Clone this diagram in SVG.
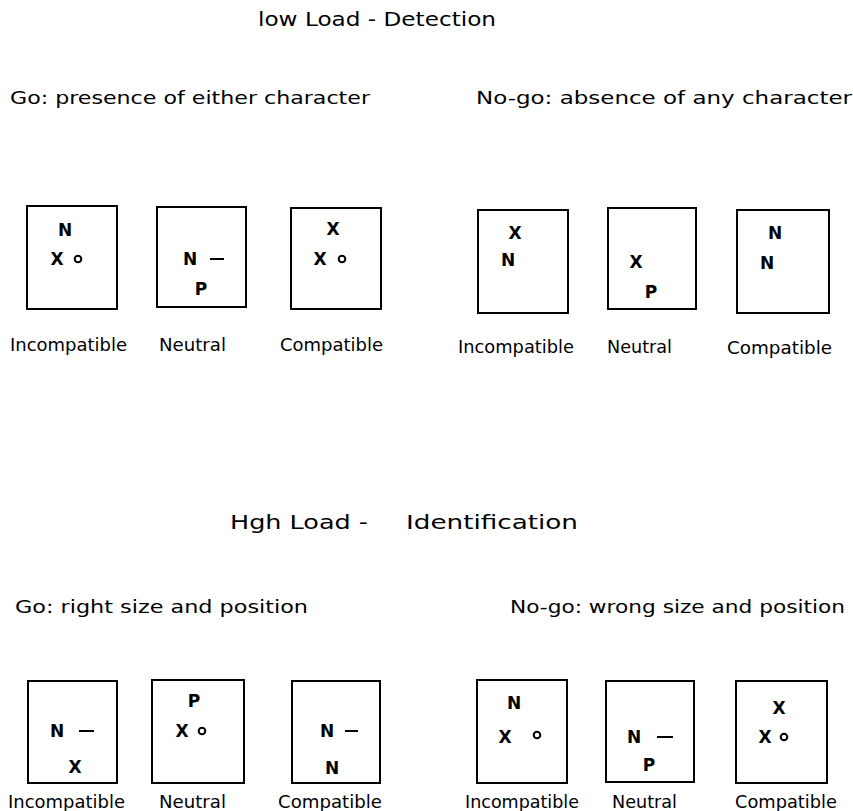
<svg xmlns="http://www.w3.org/2000/svg" width="853" height="811" viewBox="0 0 853 811">
<style>
text{font-family:"DejaVu Sans","Liberation Sans",sans-serif;fill:#000}
.title{font-size:20px}
.head{font-size:18px}
.lab{font-size:17px}
.ch{font-size:17px;font-weight:bold;text-anchor:middle}
.box{fill:none;stroke:#000;stroke-width:2}
.dot{fill:none;stroke:#000;stroke-width:2}
.dash{stroke:#000;stroke-width:2}
</style>
<rect width="853" height="811" fill="#fff"/>
<g id="titles">
<text class="title" x="258" y="26" textLength="238" lengthAdjust="spacingAndGlyphs">low Load - Detection</text>
<text class="head" x="10" y="104" textLength="360" lengthAdjust="spacingAndGlyphs">Go: presence of either character</text>
<text class="head" x="476" y="104" textLength="376" lengthAdjust="spacingAndGlyphs">No-go: absence of any character</text>
<text class="title" x="230" y="529" textLength="138" lengthAdjust="spacingAndGlyphs">Hgh Load -</text>
<text class="title" x="406" y="529" textLength="172" lengthAdjust="spacingAndGlyphs">Identification</text>
<text class="head" x="15" y="613" textLength="293" lengthAdjust="spacingAndGlyphs">Go:  right size and position</text>
<text class="head" x="510" y="613" textLength="335" lengthAdjust="spacingAndGlyphs">No-go: wrong size and position</text>
</g>
<g id="box1">
<rect class="box" x="27" y="206" width="90" height="103"/>
<text class="ch" x="65" y="236">N</text><text class="ch" x="57" y="265">X</text><circle class="dot" cx="78" cy="259" r="3.3"/>
<text class="lab" x="10" y="351" textLength="117" lengthAdjust="spacingAndGlyphs">Incompatible</text>
</g>
<g id="box2">
<rect class="box" x="157" y="207" width="89" height="100"/>
<text class="ch" x="190" y="265">N</text><line class="dash" x1="210" y1="259" x2="224" y2="259"/><text class="ch" x="201" y="295">P</text>
<text class="lab" x="159" y="351" textLength="67" lengthAdjust="spacingAndGlyphs">Neutral</text>
</g>
<g id="box3">
<rect class="box" x="291" y="208" width="90" height="101"/>
<text class="ch" x="333" y="235">X</text><text class="ch" x="320" y="265">X</text><circle class="dot" cx="342" cy="259" r="3.3"/>
<text class="lab" x="280" y="351" textLength="103" lengthAdjust="spacingAndGlyphs">Compatible</text>
</g>
<g id="box4">
<rect class="box" x="478" y="210" width="90" height="103"/>
<text class="ch" x="515" y="239">X</text><text class="ch" x="508" y="266">N</text>
<text class="lab" x="458" y="353" textLength="116" lengthAdjust="spacingAndGlyphs">Incompatible</text>
</g>
<g id="box5">
<rect class="box" x="608" y="208" width="88" height="101"/>
<text class="ch" x="636" y="268">X</text><text class="ch" x="651" y="298">P</text>
<text class="lab" x="607" y="353" textLength="65" lengthAdjust="spacingAndGlyphs">Neutral</text>
</g>
<g id="box6">
<rect class="box" x="737" y="210" width="92" height="103"/>
<text class="ch" x="775" y="239">N</text><text class="ch" x="767" y="269">N</text>
<text class="lab" x="727" y="354" textLength="105" lengthAdjust="spacingAndGlyphs">Compatible</text>
</g>
<g id="box7">
<rect class="box" x="28" y="681" width="89" height="102"/>
<text class="ch" x="57" y="737">N</text><line class="dash" x1="79" y1="731" x2="94" y2="731"/><text class="ch" x="75" y="773">X</text>
<text class="lab" x="8" y="808" textLength="117" lengthAdjust="spacingAndGlyphs">Incompatible</text>
</g>
<g id="box8">
<rect class="box" x="152" y="680" width="92" height="103"/>
<text class="ch" x="194" y="707">P</text><text class="ch" x="182" y="737">X</text><circle class="dot" cx="202" cy="731" r="3.3"/>
<text class="lab" x="159" y="808" textLength="67" lengthAdjust="spacingAndGlyphs">Neutral</text>
</g>
<g id="box9">
<rect class="box" x="292" y="681" width="88" height="102"/>
<text class="ch" x="327" y="737">N</text><line class="dash" x1="345" y1="731" x2="358" y2="731"/><text class="ch" x="332" y="774">N</text>
<text class="lab" x="278" y="808" textLength="104" lengthAdjust="spacingAndGlyphs">Compatible</text>
</g>
<g id="box10">
<rect class="box" x="477" y="680" width="90" height="103"/>
<text class="ch" x="514" y="709">N</text><text class="ch" x="505" y="743">X</text><circle class="dot" cx="537" cy="735" r="3.3"/>
<text class="lab" x="465" y="808" textLength="114" lengthAdjust="spacingAndGlyphs">Incompatible</text>
</g>
<g id="box11">
<rect class="box" x="606" y="681" width="88" height="101"/>
<text class="ch" x="634" y="743">N</text><line class="dash" x1="657" y1="737" x2="673" y2="737"/><text class="ch" x="649" y="771">P</text>
<text class="lab" x="612" y="808" textLength="65" lengthAdjust="spacingAndGlyphs">Neutral</text>
</g>
<g id="box12">
<rect class="box" x="736" y="681" width="91" height="102"/>
<text class="ch" x="779" y="714">X</text><text class="ch" x="765" y="743">X</text><circle class="dot" cx="784" cy="737" r="3.3"/>
<text class="lab" x="735" y="808" textLength="102" lengthAdjust="spacingAndGlyphs">Compatible</text>
</g>
<g id="connectors"></g>
</svg>
